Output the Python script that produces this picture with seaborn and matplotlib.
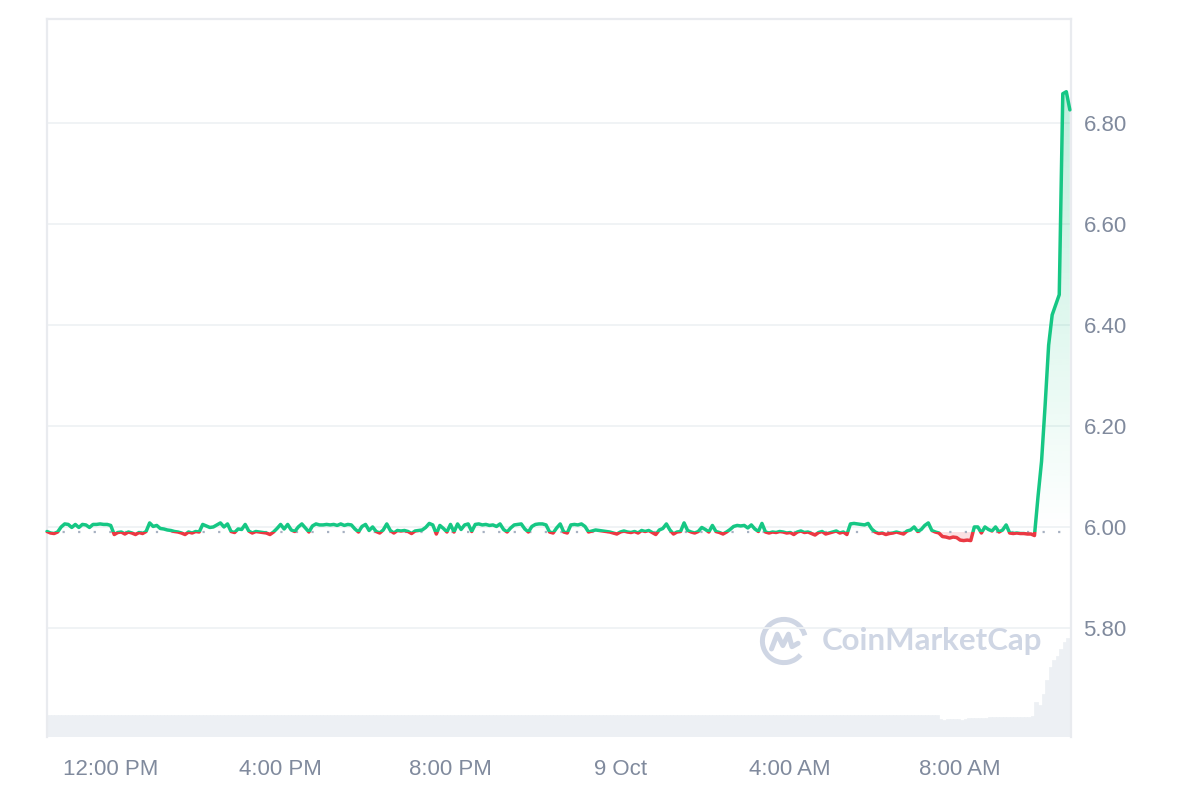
import numpy as np
import pandas as pd
import matplotlib
matplotlib.use('Agg')
import matplotlib.pyplot as plt
import matplotlib.dates as mdates
import seaborn as sns
from matplotlib.patches import Rectangle, Arc
from matplotlib.path import Path

# price every 5 minutes, 8 Oct 10:30 AM -> 9 Oct 10:35 AM
prices = [
    5.991, 5.988, 5.987, 5.990, 6.000, 6.006, 6.005, 5.999, 6.005, 5.999, 6.005, 6.004, 5.999, 6.005, 6.005, 6.006, 6.005, 6.005, 6.003, 5.985,
    5.989, 5.990, 5.986, 5.990, 5.988, 5.985, 5.989, 5.987, 5.991, 6.008, 6.001, 6.003, 5.997, 5.996, 5.994, 5.993, 5.991, 5.990, 5.988, 5.985,
    5.990, 5.988, 5.991, 5.990, 6.005, 6.002, 5.999, 6.000, 6.004, 6.008, 6.000, 6.006, 5.991, 5.989, 5.996, 5.995, 6.005, 5.992, 5.988, 5.991,
    5.990, 5.989, 5.988, 5.985, 5.990, 5.997, 6.005, 5.996, 6.005, 5.994, 5.991, 6.000, 6.006, 5.998, 5.990, 6.002, 6.006, 6.004, 6.004, 6.005,
    6.004, 6.005, 6.003, 6.006, 6.003, 6.005, 6.004, 5.996, 5.990, 6.001, 6.005, 5.993, 6.000, 5.991, 5.988, 5.994, 6.006, 5.993, 5.988, 5.993,
    5.992, 5.993, 5.991, 5.987, 5.992, 5.993, 5.994, 5.999, 6.007, 6.004, 5.986, 6.003, 5.997, 5.990, 6.005, 5.990, 6.006, 5.995, 6.004, 6.006,
    5.991, 6.005, 6.006, 6.004, 6.005, 6.003, 6.004, 6.001, 6.006, 5.995, 5.990, 5.998, 6.004, 6.005, 6.006, 5.996, 5.990, 6.001, 6.005, 6.006,
    6.006, 6.004, 5.990, 5.988, 5.998, 6.006, 5.990, 5.988, 6.004, 6.005, 6.004, 6.006, 6.001, 5.990, 5.992, 5.994, 5.993, 5.992, 5.991, 5.990,
    5.988, 5.986, 5.990, 5.992, 5.990, 5.989, 5.991, 5.988, 5.993, 5.991, 5.993, 5.989, 5.985, 5.994, 5.997, 6.006, 5.994, 5.986, 5.990, 5.991,
    6.008, 5.993, 5.990, 5.988, 5.991, 5.999, 5.995, 5.990, 6.003, 5.991, 5.989, 5.986, 5.990, 5.995, 6.001, 6.003, 6.002, 6.003, 5.998, 6.004,
    5.996, 5.991, 6.007, 5.990, 5.988, 5.990, 5.989, 5.991, 5.990, 5.988, 5.989, 5.985, 5.990, 5.992, 5.989, 5.990, 5.987, 5.984, 5.989, 5.991,
    5.986, 5.988, 5.990, 5.992, 5.988, 5.990, 5.985, 6.006, 6.007, 6.006, 6.005, 6.004, 6.007, 5.996, 5.990, 5.987, 5.988, 5.985, 5.987, 5.988,
    5.990, 5.988, 5.986, 5.992, 5.994, 6.000, 5.991, 5.995, 6.003, 6.008, 5.993, 5.990, 5.988, 5.981, 5.980, 5.978, 5.980, 5.979, 5.974, 5.973,
    5.974, 5.973, 6.000, 6.000, 5.988, 6.000, 5.995, 5.992, 6.000, 5.990, 5.994, 6.004, 5.988, 5.987, 5.988, 5.987, 5.987, 5.986, 5.986, 5.983,
    6.060, 6.130, 6.240, 6.360, 6.420, 6.440, 6.460, 6.858, 6.862, 6.826,
]

# volume bars (relative units)
volume = [
    1.00, 1.00, 1.00, 1.00, 1.00, 1.00, 1.00, 1.00, 1.00, 1.00, 1.00, 1.00, 1.00, 1.00, 1.00, 1.00, 1.00, 1.00, 1.00, 1.00,
    1.00, 1.00, 1.00, 1.00, 1.00, 1.00, 1.00, 1.00, 1.00, 1.00, 1.00, 1.00, 1.00, 1.00, 1.00, 1.00, 1.00, 1.00, 1.00, 1.00,
    1.00, 1.00, 1.00, 1.00, 1.00, 1.00, 1.00, 1.00, 1.00, 1.00, 1.00, 1.00, 1.00, 1.00, 1.00, 1.00, 1.00, 1.00, 1.00, 1.00,
    1.00, 1.00, 1.00, 1.00, 1.00, 1.00, 1.00, 1.00, 1.00, 1.00, 1.00, 1.00, 1.00, 1.00, 1.00, 1.00, 1.00, 1.00, 1.00, 1.00,
    1.00, 1.00, 1.00, 1.00, 1.00, 1.00, 1.00, 1.00, 1.00, 1.00, 1.00, 1.00, 1.00, 1.00, 1.00, 1.00, 1.00, 1.00, 1.00, 1.00,
    1.00, 1.00, 1.00, 1.00, 1.00, 1.00, 1.00, 1.00, 1.00, 1.00, 1.00, 1.00, 1.00, 1.00, 1.00, 1.00, 1.00, 1.00, 1.00, 1.00,
    1.00, 1.00, 1.00, 1.00, 1.00, 1.00, 1.00, 1.00, 1.00, 1.00, 1.00, 1.00, 1.00, 1.00, 1.00, 1.00, 1.00, 1.00, 1.00, 1.00,
    1.00, 1.00, 1.00, 1.00, 1.00, 1.00, 1.00, 1.00, 1.00, 1.00, 1.00, 1.00, 1.00, 1.00, 1.00, 1.00, 1.00, 1.00, 1.00, 1.00,
    1.00, 1.00, 1.00, 1.00, 1.00, 1.00, 1.00, 1.00, 1.00, 1.00, 1.00, 1.00, 1.00, 1.00, 1.00, 1.00, 1.00, 1.00, 1.00, 1.00,
    1.00, 1.00, 1.00, 1.00, 1.00, 1.00, 1.00, 1.00, 1.00, 1.00, 1.00, 1.00, 1.00, 1.00, 1.00, 1.00, 1.00, 1.00, 1.00, 1.00,
    1.00, 1.00, 1.00, 1.00, 1.00, 1.00, 1.00, 1.00, 1.00, 1.00, 1.00, 1.00, 1.00, 1.00, 1.00, 1.00, 1.00, 1.00, 1.00, 1.00,
    1.00, 1.00, 1.00, 1.00, 1.00, 1.00, 1.00, 1.00, 1.00, 1.00, 1.00, 1.00, 1.00, 1.00, 1.00, 1.00, 1.00, 1.00, 1.00, 1.00,
    1.00, 1.00, 1.00, 1.00, 1.00, 1.00, 1.00, 1.00, 1.00, 1.00, 1.00, 1.00, 0.80, 0.78, 0.80, 0.82, 0.82, 0.80, 0.78, 0.82,
    0.84, 0.84, 0.84, 0.84, 0.86, 0.88, 0.90, 0.90, 0.90, 0.90, 0.90, 0.90, 0.92, 0.90, 0.90, 0.90, 0.90, 0.90, 0.94, 1.60,
    1.45, 1.95, 2.60, 3.20, 3.50, 3.70, 4.00, 4.30, 4.50, 4.60,
]

open_price = 5.99
yticks = [5.80, 6.00, 6.20, 6.40, 6.60, 6.80]
tick_times = ['2024-10-08 12:00', '2024-10-08 16:00', '2024-10-08 20:00',
              '2024-10-09 00:00', '2024-10-09 04:00', '2024-10-09 08:00']
tick_labels = ['12:00 PM', '4:00 PM', '8:00 PM', '9 Oct', '4:00 AM', '8:00 AM']

green = '#16c784'
red = '#ea3943'
label_col = '#808a9d'

times = pd.date_range('2024-10-08 10:30', periods=len(prices), freq='5min')
x = mdates.date2num(times)
p = np.array(prices)

sns.set_style('white')
plt.rcParams['font.family'] = ['Liberation Sans', 'DejaVu Sans']

fig = plt.figure(figsize=(12, 8), dpi=100)
ax = fig.add_axes([47/1200, 63/800, 1024/1200, 718/800])
axv = ax.twinx()  # volume axis, drawn behind the price
ax.set_zorder(2)
ax.patch.set_visible(False)
axv.set_zorder(1)

# volume bars, solid so no uneven seams show
axv.bar(x, volume, width=(x[1]-x[0]), color='#edf0f4', edgecolor='#edf0f4',
        linewidth=0.5, align='edge')
axv.set_ylim(0, 32.6)
axv.set_yticks([])
for s in axv.spines.values():
    s.set_visible(False)

# green gradient area above the open price
grad = np.zeros((256, 1, 4))
grad[..., :3] = matplotlib.colors.to_rgb(green)
grad[:, 0, 3] = np.linspace(0.0, 0.28, 256)
im = ax.imshow(grad, extent=[x[0], x[-1], open_price, p.max()], origin='lower',
               aspect='auto', zorder=1, interpolation='bilinear')
above = ax.fill_between(x, p, open_price, where=p >= open_price, interpolate=True,
                        facecolor='none', edgecolor='none')
im.set_clip_path(Path.make_compound_path(*above.get_paths()), transform=ax.transData)

# red area below the open price
ax.fill_between(x, p, open_price, where=p < open_price, interpolate=True,
                color=red, alpha=0.15, linewidth=0, zorder=1)

# dotted open price line
ax.axhline(open_price, color='#a7b1c2', lw=1.6, ls=(0, (1, 6)), zorder=2)

# price line, green above / red below the open price
sns.lineplot(x=x, y=p, ax=ax, color=green, lw=2.5, zorder=3)
ax.lines[-1].set_clip_path(Rectangle((x[0]-1, open_price), 3, 5, transform=ax.transData))
ax.lines[-1].set_solid_joinstyle('round')
sns.lineplot(x=x, y=p, ax=ax, color=red, lw=2.5, zorder=3)
ax.lines[-1].set_clip_path(Rectangle((x[0]-1, open_price-5), 3, 5, transform=ax.transData))
ax.lines[-1].set_solid_joinstyle('round')

ax.set_xlim(x[0], x[0] + 24.11/24)
ax.set_ylim(5.584, 7.006)

ax.yaxis.tick_right()
ax.set_yticks(yticks, [f'{v:.2f}' for v in yticks])
ax.set_xticks(mdates.date2num(pd.to_datetime(tick_times)), tick_labels)
ax.tick_params(axis='y', length=0, pad=9, labelsize=16, labelcolor=label_col)
ax.tick_params(axis='x', length=0, pad=16, labelsize=16, labelcolor=label_col)
ax.grid(axis='y', color='#eff2f5', lw=1.3)
ax.set_xlabel('')
ax.set_ylabel('')

for side in ['top', 'left', 'right']:
    ax.spines[side].set_color('#e9ebef')
    ax.spines[side].set_linewidth(1.6)
ax.spines['bottom'].set_visible(False)

# watermark
fig.text(822/1200, 1 - 641/800, 'CoinMarketCap', fontsize=22.5, fontweight='bold',
         color='#cfd6e4', va='center', ha='left', family='Lato')
logo = fig.add_axes([759/1200, 1 - 666/800, 50/1200, 50/800])
logo.set_xlim(-1.1, 1.1)
logo.set_ylim(-1.1, 1.1)
logo.set_aspect('equal')
logo.axis('off')
logo.add_patch(Arc((0, 0), 1.9, 1.9, theta1=15, theta2=320, color='#cfd6e4', lw=3.6))
logo.plot([-0.55, -0.3, -0.05, 0.2, 0.35, 0.62], [-0.35, 0.3, -0.2, 0.3, -0.25, -0.1],
          color='#cfd6e4', lw=3.6, solid_joinstyle='round', solid_capstyle='round')

fig.savefig('out.png', dpi=100)
